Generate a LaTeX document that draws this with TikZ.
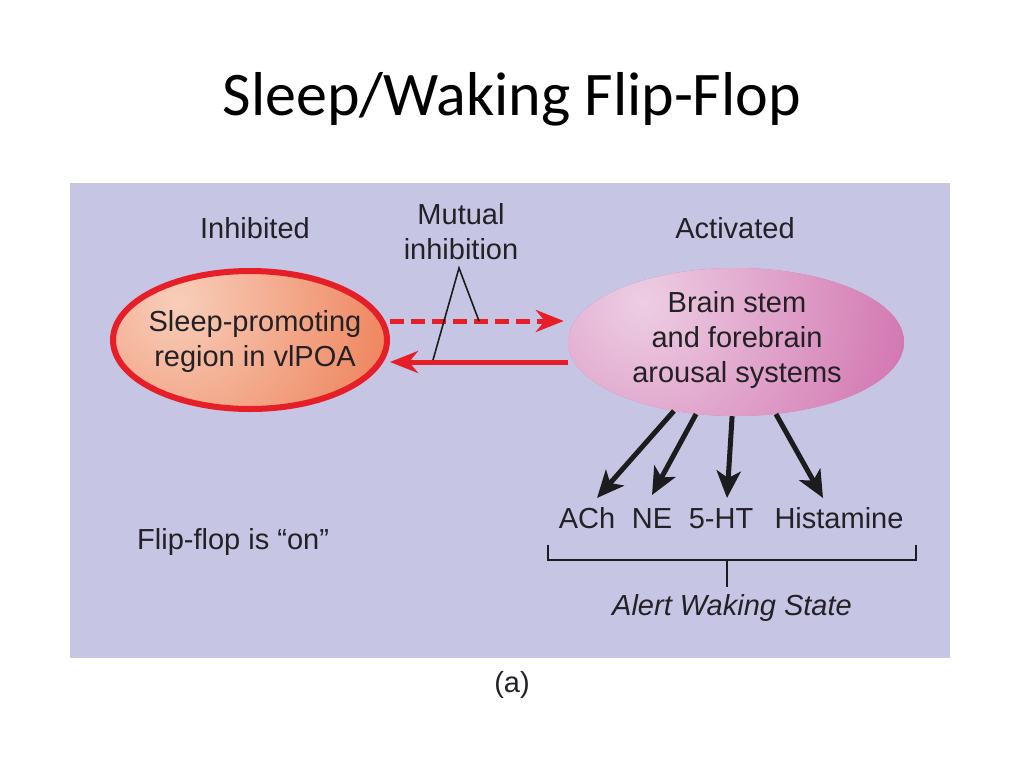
\documentclass[tikz,border=0pt]{standalone}
\usepackage{fontspec}
\setmainfont{Liberation Sans}
\newfontfamily\titlefont{Carlito}
\usetikzlibrary{shapes.geometric,arrows.meta}
\definecolor{panel}{RGB}{198,198,228}
\definecolor{vred}{RGB}{230,30,40}
\definecolor{peach}{RGB}{248,206,186}
\definecolor{orangeC}{RGB}{238,130,90}
\definecolor{pinkL}{RGB}{237,206,228}
\definecolor{pinkD}{RGB}{210,118,176}
\definecolor{txt}{RGB}{35,33,38}
\definecolor{blk}{RGB}{28,28,30}
\tikzset{
  lbl/.style={font=\fontsize{29}{35}\selectfont, text=txt, align=center, inner sep=0pt},
  nt/.style={font=\fontsize{29}{35}\selectfont, text=txt, inner sep=0pt, anchor=base},
  redarrow/.style={draw=vred, line width=5pt, -{Stealth[length=28pt,width=22pt,inset=9pt]}},
  blkarrow/.style={draw=blk, line width=5pt, -{Stealth[length=27pt,width=24pt,inset=7pt]}},
  thinline/.style={draw=blk, line width=1.6pt},
}
\begin{document}
\begin{tikzpicture}[x=1pt,y=-1pt]
\useasboundingbox (0,0) rectangle (1024,768);
\fill[white] (0,0) rectangle (1024,768);
\node[font=\titlefont\fontsize{62}{70}\selectfont, text=black] (title) at (512,99) {Sleep/Waking Flip-Flop};
\fill[panel] (70,183) rectangle (950,658);

\node[lbl] (inh) at (255,228) {Inhibited};
\node[lbl] (mut) at (461,232) {Mutual\\inhibition};
\node[lbl] (act) at (735,228) {Activated};

\node[ellipse, minimum width=274pt, minimum height=138pt, inner sep=0pt, draw=vred, line width=6pt,
      fill=orangeC,
      path picture={\shade[inner color=peach, outer color=orangeC]
        ([shift={(-72,-38)}]path picture bounding box.center) circle[radius=225pt];}]
      (sleep) at (250,340) {};
\node[lbl] (sleeptxt) at (255,341) {Sleep-promoting\\region in vlPOA};

\node[ellipse, minimum width=336pt, minimum height=148pt, inner sep=0pt,
      fill=pinkD,
      path picture={\shade[inner color=pinkL, outer color=pinkD]
        ([shift={(-93,-40)}]path picture bounding box.center) circle[radius=272pt];}]
      (brain) at (736,342) {};
\node[lbl] (braintxt) at (737,340) {Brain stem\\and forebrain\\arousal systems};

\draw[redarrow, dash pattern=on 14pt off 7pt] ([yshift=19pt]sleep.east) -- ([xshift=-4pt,yshift=21pt]brain.west);
\draw[redarrow] ([yshift=-20pt]brain.west) -- ([yshift=-22pt]sleep.east);

\coordinate (apex) at (459,268);
\coordinate (mr) at (479,321);
\coordinate (ml) at (433,360);
\draw[thinline] (ml) -- (apex) -- (mr);

\node[nt] (ach) at (587,528) {ACh};
\node[nt] (ne) at (652,528) {NE};
\node[nt] (ht) at (721,528) {5-HT};
\node[nt] (his) at (839,528) {Histamine};

\coordinate (t1) at (597,498);
\coordinate (t2) at (652,495);
\coordinate (t3) at (727,498);
\coordinate (t4) at (823,498);
\draw[blkarrow] (brain.228) -- (t1);
\draw[blkarrow] (brain.241) -- (t2);
\draw[blkarrow] (brain.267) -- (t3);
\draw[blkarrow] (brain.299) -- (t4);

\coordinate (bl) at (548,545);
\coordinate (blb) at (548,560);
\coordinate (brb) at (916,560);
\coordinate (br) at (916,545);
\coordinate (bm) at (727,560);
\coordinate (bmd) at (727,587);
\draw[thinline] (bl) -- (blb) -- (brb) -- (br);
\draw[thinline] (bm) -- (bmd);

\node[lbl, font=\itshape\fontsize{29}{35}\selectfont] (alert) at (732,608) {Alert Waking State};
\node[nt, anchor=base west] (flip) at (137,549) {Flip-flop is “on”};
\node[lbl] (a) at (512,685) {(a)};
\end{tikzpicture}
\end{document}
